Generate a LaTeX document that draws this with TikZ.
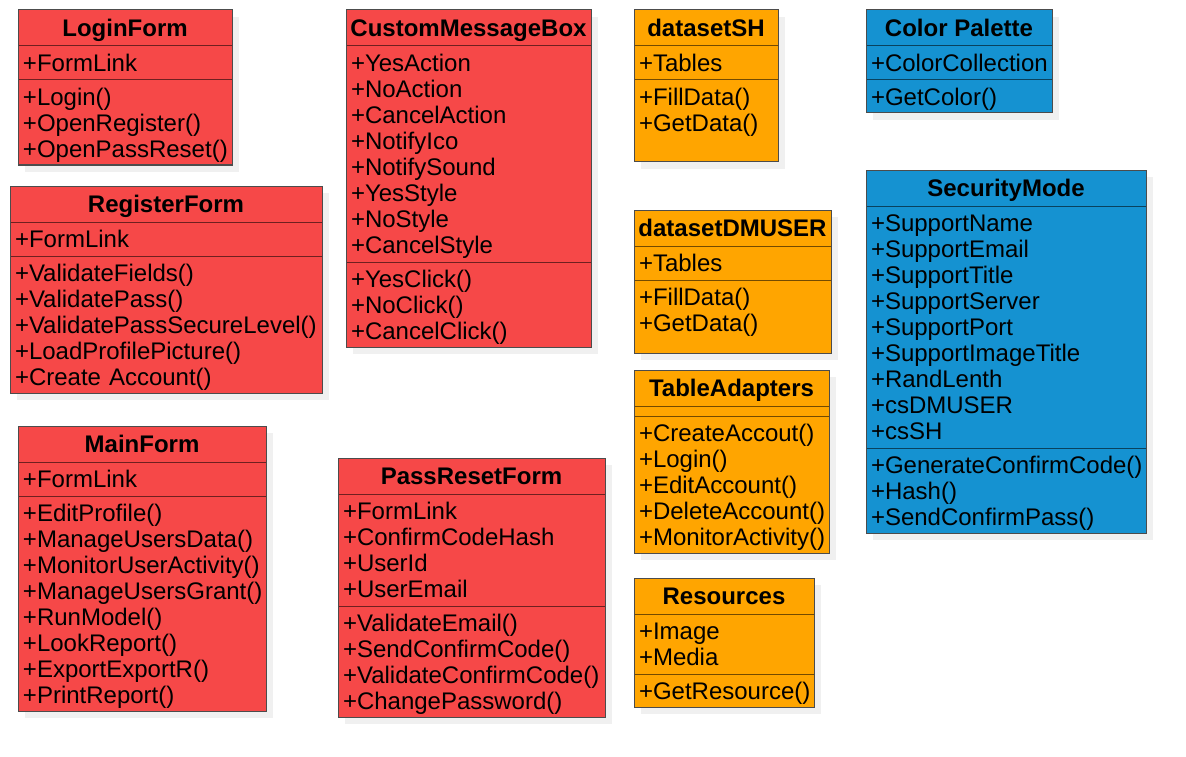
\documentclass[tikz,border=0pt]{standalone}
\usepackage{fontspec}
\setmainfont{Liberation Sans}
\usepackage{xcolor}
\usetikzlibrary{positioning,backgrounds}

\definecolor{formred}{HTML}{F64848}
\definecolor{dataorange}{HTML}{FFA500}
\definecolor{toolblue}{HTML}{1592D1}

\tikzset{
  head/.style={draw=#1!45!black, fill=#1, font=\fontsize{24}{26}\selectfont\bfseries,
    text height=18, text depth=0.8,
    line width=1pt, minimum height=36, inner sep=0, outer sep=0, anchor=north west},
  part/.style={draw=#1!45!black, fill=#1, align=left, line width=1pt,
    font=\fontsize{24}{26}\selectfont, text height=25.5,
    inner xsep=5, inner ysep=0, outer sep=0},
  frame/.style={draw=black!70, line width=1pt},
  shade/.style={fill=black!6}
}

\begin{document}
\begin{tikzpicture}[x=1pt,y=-1pt]
  \useasboundingbox (0,0) rectangle (1186,757);

  % forms
  \node (login) at (18,10) [head=formred, minimum width=214] {LoginForm};
  \node (loginA) [part=formred, text width=204, text depth=8.5, below=0pt of login] {+FormLink};
  \node (loginM) [part=formred, text width=204, text depth=59.5, below=0pt of loginA] {+Login()\\+OpenRegister()\\+OpenPassReset()};
  \draw [frame] (login.north west) rectangle (loginM.south east);

  \node (register) at (10,186) [head=formred, minimum width=312] {RegisterForm};
  \node (registerA) [part=formred, text width=302, text depth=8.5, below=0pt of register] {+FormLink};
  \node (registerM) [part=formred, text width=302, text depth=111.5, below=0pt of registerA] {+ValidateFields()\\+ValidatePass()\\+ValidatePassSecureLevel()\\+LoadProfilePicture()\\+Create Account()};
  \draw [frame] (register.north west) rectangle (registerM.south east);

  \node (main) at (18,426) [head=formred, minimum width=248] {MainForm};
  \node (mainA) [part=formred, text width=238, text depth=8.5, below=0pt of main] {+FormLink};
  \node (mainM) [part=formred, text width=238, text depth=189.5, below=0pt of mainA] {+EditProfile()\\+ManageUsersData()\\+MonitorUserActivity()\\+ManageUsersGrant()\\+RunModel()\\+LookReport()\\+ExportExportR()\\+PrintReport()};
  \draw [frame] (main.north west) rectangle (mainM.south east);

  \node (msgbox) at (346,10) [head=formred, minimum width=245] {CustomMessageBox};
  \node (msgboxA) [part=formred, text width=235, text depth=190.5, below=0pt of msgbox] {+YesAction\\+NoAction\\+CancelAction\\+NotifyIco\\+NotifySound\\+YesStyle\\+NoStyle\\+CancelStyle};
  \node (msgboxM) [part=formred, text width=235, text depth=59.5, below=0pt of msgboxA] {+YesClick()\\+NoClick()\\+CancelClick()};
  \draw [frame] (msgbox.north west) rectangle (msgboxM.south east);

  \node (reset) at (338,458) [head=formred, minimum width=267] {PassResetForm};
  \node (resetA) [part=formred, text width=257, text depth=86.5, below=0pt of reset] {+FormLink\\+ConfirmCodeHash\\+UserId\\+UserEmail};
  \node (resetM) [part=formred, text width=257, text depth=85.5, below=0pt of resetA] {+ValidateEmail()\\+SendConfirmCode()\\+ValidateConfirmCode()\\+ChangePassword()};
  \draw [frame] (reset.north west) rectangle (resetM.south east);

  % data
  \node (dsSH) at (634,10) [head=dataorange, minimum width=144] {datasetSH};
  \node (dsSHA) [part=dataorange, text width=134, text depth=8.5, below=0pt of dsSH] {+Tables};
  \node (dsSHM) [part=dataorange, text width=134, text depth=56.5, below=0pt of dsSHA] {+FillData()\\+GetData()};
  \draw [frame] (dsSH.north west) rectangle (dsSHM.south east);

  \node (dsDM) at (634,210) [head=dataorange, minimum width=197] {datasetDMUSER};
  \node (dsDMA) [part=dataorange, text width=187, text depth=8.5, below=0pt of dsDM] {+Tables};
  \node (dsDMM) [part=dataorange, text width=187, text depth=47.5, below=0pt of dsDMA] {+FillData()\\+GetData()};
  \draw [frame] (dsDM.north west) rectangle (dsDMM.south east);

  \node (adapt) at (634,370) [head=dataorange, minimum width=195] {TableAdapters};
  \node (adaptA) [part=dataorange, text width=185, text height=5, text depth=5, below=0pt of adapt] {};
  \node (adaptM) [part=dataorange, text width=185, text depth=111.5, below=0pt of adaptA] {+CreateAccout()\\+Login()\\+EditAccount()\\+DeleteAccount()\\+MonitorActivity()};
  \draw [frame] (adapt.north west) rectangle (adaptM.south east);

  \node (res) at (634,578) [head=dataorange, minimum width=180] {Resources};
  \node (resA) [part=dataorange, text width=170, text depth=34.5, below=0pt of res] {+Image\\+Media};
  \node (resM) [part=dataorange, text width=170, text depth=7.5, below=0pt of resA] {+GetResource()};
  \draw [frame] (res.north west) rectangle (resM.south east);

  % tools
  \node (palette) at (866,10) [head=toolblue, minimum width=186] {Color Palette};
  \node (paletteA) [part=toolblue, text width=176, text depth=8.5, below=0pt of palette] {+ColorCollection};
  \node (paletteM) [part=toolblue, text width=176, text depth=7.5, below=0pt of paletteA] {+GetColor()};
  \draw [frame] (palette.north west) rectangle (paletteM.south east);

  \node (secmode) at (866,170) [head=toolblue, minimum width=280] {SecurityMode};
  \node (secmodeA) [part=toolblue, text width=270, text depth=216.5, below=0pt of secmode] {+SupportName\\+SupportEmail\\+SupportTitle\\+SupportServer\\+SupportPort\\+SupportImageTitle\\+RandLenth\\+csDMUSER\\+csSH};
  \node (secmodeM) [part=toolblue, text width=270, text depth=59.5, below=0pt of secmodeA] {+GenerateConfirmCode()\\+Hash()\\+SendConfirmPass()};
  \draw [frame] (secmode.north west) rectangle (secmodeM.south east);

  % shadows
  \begin{pgfonlayer}{background}
    \foreach \c in {login,register,main,msgbox,reset,dsSH,dsDM,adapt,res,palette,secmode}
      \fill [shade] ([shift={(7,7)}]\c.north west) rectangle ([shift={(7,7)}]\c M.south east);
  \end{pgfonlayer}
\end{tikzpicture}
\end{document}
